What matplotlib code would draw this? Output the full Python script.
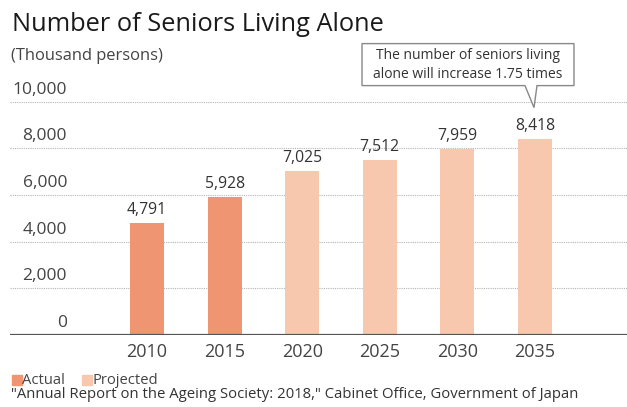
import numpy as np
import matplotlib
matplotlib.use("Agg")
import matplotlib.pyplot as plt
from matplotlib.patches import Polygon

# data (thousand persons)
years = ["2010", "2015", "2020", "2025", "2030", "2035"]
seniors_alone = [4791, 5928, 7025, 7512, 7959, 8418]
is_actual = [True, True, False, False, False, False]
y_ticks = [0, 2000, 4000, 6000, 8000, 10000]

title = "Number of Seniors Living Alone"
unit_label = "(Thousand persons)"
callout_lines = "The number of seniors living\nalone will increase 1.75 times"
legend_labels = ["Actual", "Projected"]
source_note = "\"Annual Report on the Ageing Society: 2018,\" Cabinet Office, Government of Japan"

c_actual = "#ef9572"
c_projected = "#f8c8ae"
c_text = "#333333"

plt.rcParams["font.family"] = ["Open Sans", "DejaVu Sans"]

W, H = 627, 407
fig = plt.figure(figsize=(W / 100, H / 100), dpi=100)
ax = fig.add_axes([10 / W, (H - 335) / H, 617 / W, 233.3 / H])

x = np.arange(len(years))
colors = [c_actual if a else c_projected for a in is_actual]
ax.bar(x, seniors_alone, width=0.44, color=colors, zorder=3)

step = 77.6
ax.set_xlim((10 - 147) / step, (627 - 147) / step)
ax.set_ylim(0, 10000)

for s in ax.spines.values():
    s.set_visible(False)
ax.set_xticks([])
ax.set_yticks([])

# dotted grid + value labels on the left
for v in y_ticks[1:]:
    ax.axhline(v, color="#b5b5b5", lw=0.8, ls=(0, (1, 1)), zorder=1)
for v in y_ticks:
    ax.annotate(f"{v:,}", xy=(57 / 617, v), xycoords=("axes fraction", "data"),
                xytext=(0, 4), textcoords="offset pixels",
                ha="right", va="bottom", fontsize=12.5, color="#444444")
ax.axhline(0, color="#555555", lw=1.6, zorder=4)

# bar values and year labels
for xi, v, yr in zip(x, seniors_alone, years):
    ax.annotate(f"{v:,}", xy=(xi, v), xytext=(0, 5), textcoords="offset pixels",
                ha="center", va="bottom", fontsize=11.3, color=c_text)
    ax.annotate(yr, xy=(xi, 0), xytext=(0, -8), textcoords="offset pixels",
                ha="center", va="top", fontsize=13, color="#444444")

# callout pointing at the last bar
fig.canvas.draw()
tip = ax.transData.transform((x[-1], seniors_alone[-1]))
tx, ty = tip[0] - 1, tip[1] + 31
box = [(tx - 9, ty + 22), (tx - 172, ty + 22), (tx - 172, ty + 64),
       (tx + 40, ty + 64), (tx + 40, ty + 22), (tx + 3, ty + 22), (tx, ty)]
fig.add_artist(Polygon(box, closed=True, transform=None, facecolor="white",
                       edgecolor="#888888", lw=1.0, zorder=5))
fig.text((tx - 66) / W, (ty + 43) / H, callout_lines, ha="center", va="center",
         fontsize=10, color=c_text, linespacing=1.35, zorder=6)

# title, unit, legend, source
fig.text(12 / W, 1 - 31 / H, title, fontsize=18.3, color="#1a1a1a", va="baseline")
fig.text(11 / W, 1 - 60 / H, unit_label, fontsize=11.9, color="#444444", va="baseline")

lx = 12
for lab, col in zip(legend_labels, [c_actual, c_projected]):
    fig.patches.append(plt.Rectangle((lx / W, 1 - 385 / H), 10 / W, 10 / H,
                                     transform=fig.transFigure, color=col))
    fig.text((lx + 10) / W, 1 - 380 / H, lab, fontsize=10.6, color="#444444", va="center")
    lx += 70
fig.text(11 / W, 1 - 398 / H, source_note, fontsize=10.7, color="#333333", va="baseline")

fig.savefig("out.png", dpi=100)
